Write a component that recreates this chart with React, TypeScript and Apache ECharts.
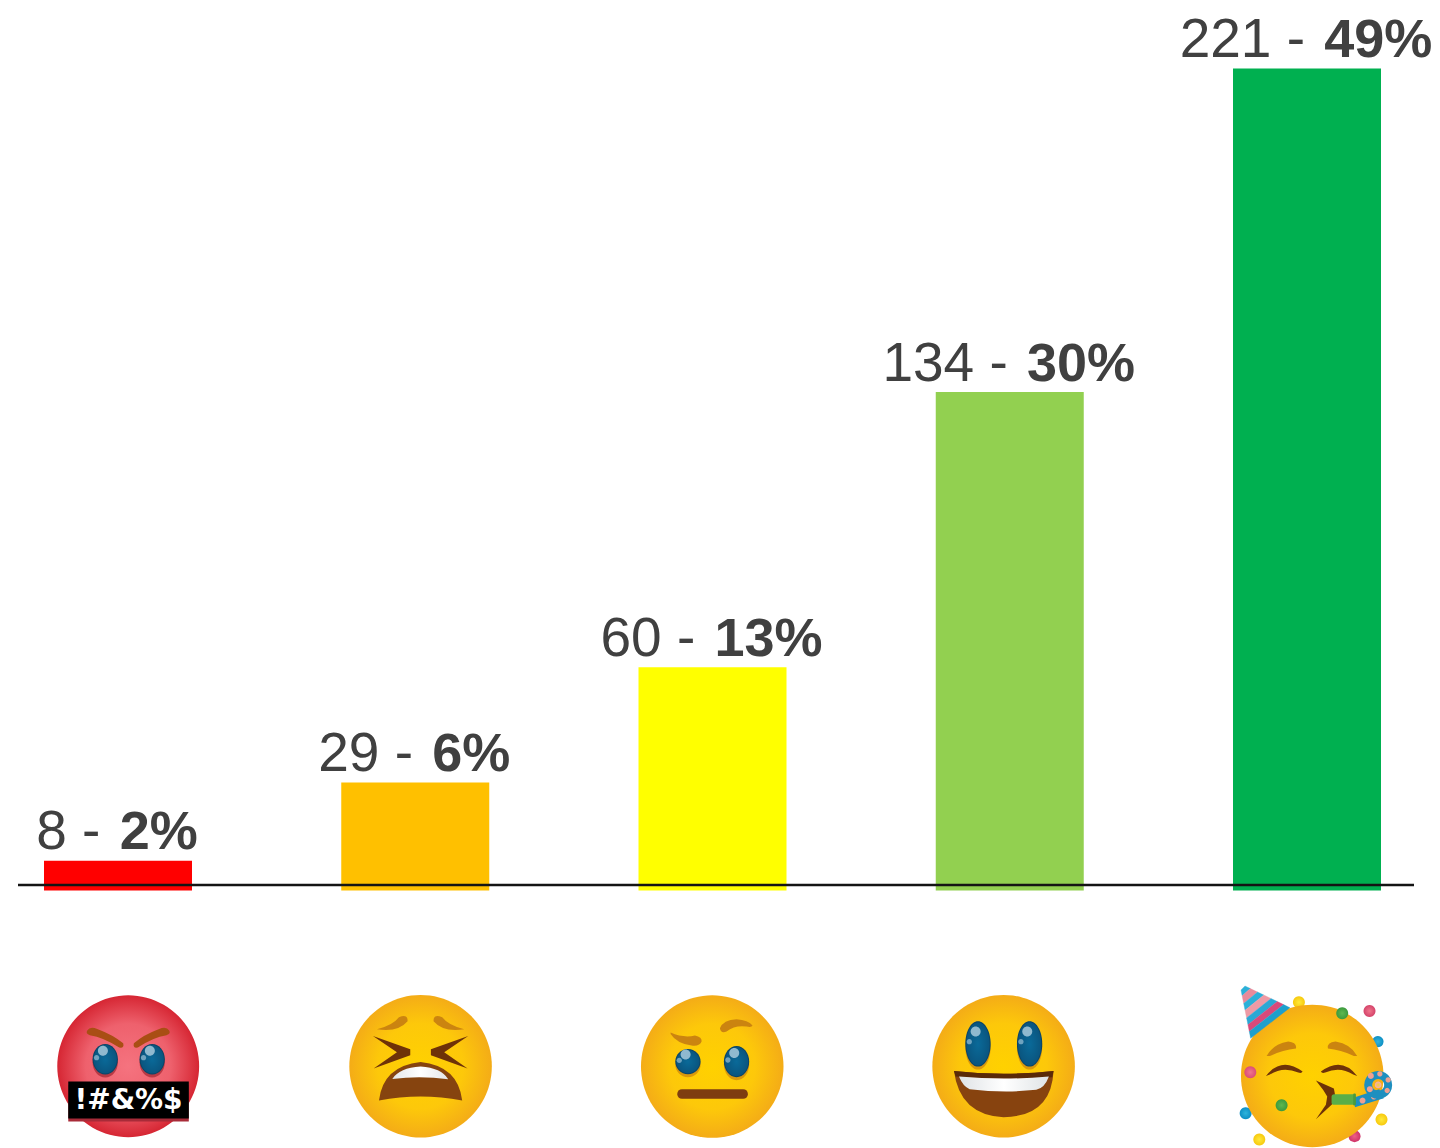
import React, { useEffect, useRef } from "react";
import * as echarts from "echarts";

const categories = ["Angry", "Tired", "Neutral", "Happy", "Party"];
const counts = [8, 29, 60, 134, 221];
const percents = [2, 6, 13, 30, 49];
const barColors = ["#FF0000", "#FFC000", "#FFFF00", "#92D050", "#00B050"];

let shapeId = 0;
const P = (d: string, fill: any, extra: any = {}) => {
  const name = "emojiPath" + shapeId++;
  echarts.graphic.registerShape(name, echarts.graphic.extendPath(d, {}) as any);
  return { type: name, style: { fill, ...extra } };
};
const radial = (c: string, e: string, mid?: string) => ({
  type: "radial", x: 0.5, y: 0.5, r: 0.5, global: false,
  colorStops: mid
    ? [{ offset: 0, color: c }, { offset: 0.6, color: mid }, { offset: 1, color: e }]
    : [{ offset: 0, color: c }, { offset: 1, color: e }],
});
const linearH = (a: string, b: string) => ({
  type: "linear", x: 0, y: 0, x2: 1, y2: 0, global: false,
  colorStops: [{ offset: 0, color: a }, { offset: 0.5, color: b }, { offset: 1, color: a }],
});
const el = (cx: number, cy: number, rx: number, ry: number, fill: any) => ({
  type: "ellipse", shape: { cx, cy, rx, ry }, style: { fill },
});
const yellowFace = (cx: number, cy: number, r: number) => ({
  type: "circle", shape: { cx, cy, r },
  style: { fill: radial("#FFD100", "#F4AC17", "#FDC80A") },
});
const eye = (cx: number, cy: number, rx: number, ry: number, shadow: string) => [
  el(cx, cy + 9, rx, ry, shadow),
  el(cx, cy, rx, ry, "#0B4466"),
  el(cx, cy, rx - 3, ry - 3, radial("#0A6A99", "#0A557F")),
  el(cx - 7, cy - ry * 0.55, 15, 15, "#8FB9CF"),
  el(cx - 26, cy - ry * 0.1, 8, 8, "#6FA3BF"),
];
const browColor = "#CB8410";
const group = (x: number, y: number, children: any[]) => ({
  type: "group", x, y, scaleX: 1 / 3, scaleY: 1 / 3, children,
});

const stripeA = (t: number) => [63 + (92 - 63) * t, 60 + (205 - 60) * t];
const stripeB = (t: number) => [75 + (210 - 75) * t, 48 + (113 - 48) * t];
const hatStops = [0, 0.12, 0.28, 0.42, 0.58, 0.72, 0.86, 1];
const hatColors = ["#2BB0D8", "#E88A9A", "#2BB0D8", "#EE9AA5", "#2BA8D4", "#D9497A", "#1E9FCC"];
const hatStripes = hatColors.map((c, i) => ({
  type: "polygon",
  shape: { points: [stripeA(hatStops[i]), stripeB(hatStops[i]), stripeB(hatStops[i + 1]), stripeA(hatStops[i + 1])] },
  style: { fill: c, stroke: c, lineWidth: 1 },
}));

const dot = (cx: number, cy: number, r: number, a: string, b: string) => ({
  type: "circle", shape: { cx, cy, r }, style: { fill: radial(a, b) },
});
const conf = { fill: "#F0A090" };

const emojis = (): any[] => [
  // angry
  group(0, 960, [
    { type: "circle", shape: { cx: 385, cy: 319, r: 213 }, style: { fill: radial("#F5737F", "#D62633", "#EE616D") } },
    P("M262 212 Q270 198 292 207 Q340 225 370 250 Q374 266 358 263 Q310 232 270 226 Q256 222 262 212Z", "#A94E14"),
    P("M508 212 Q500 198 478 207 Q430 225 402 250 Q398 266 414 263 Q460 232 500 226 Q514 222 508 212Z", "#A94E14"),
    ...eye(316, 298, 38, 46, "#B93A45"),
    ...eye(457, 298, 38, 46, "#B93A45"),
    { type: "rect", shape: { x: 205, y: 375, width: 362, height: 110 }, style: { fill: "#A82B38" } },
    { type: "rect", shape: { x: 205, y: 365, width: 362, height: 111 }, style: { fill: "#000000" } },
  ]),
  {
    type: "text", x: 128.5, y: 1099,
    style: { text: "!#&%$", fill: "#FFFFFF", font: "bold 28px 'DejaVu Sans'", textAlign: "center", textVerticalAlign: "middle" },
  },
  // tired
  group(0, 960, [
    yellowFace(1263, 319, 214),
    P("M1132 208 Q1180 196 1198 172 Q1225 160 1224 184 Q1195 218 1132 208Z", browColor),
    P("M1394 208 Q1346 196 1328 172 Q1301 160 1302 184 Q1331 218 1394 208Z", browColor),
    P("M1120 228 L1232 268 L1232 286 L1122 326 L1192 277 Z", "#6E3208"),
    P("M1406 228 L1294 268 L1294 286 L1404 326 L1334 277 Z", "#6E3208"),
    P("M1138 422 Q1150 318 1263 306 Q1376 318 1388 422 Q1263 398 1138 422Z", "#86440F"),
    P("M1178 357 Q1200 324 1263 320 Q1325 324 1346 358 Q1263 346 1178 357Z", linearH("#E4E6E8", "#FFFFFF")),
  ]),
  // neutral
  group(620, 960, [
    yellowFace(277, 320, 214),
    P("M152 218 Q190 235 225 227 Q247 232 245 245 Q240 260 215 257 Q170 250 152 222Z", browColor),
    P("M300 205 Q310 180 350 178 Q385 180 398 197 Q395 204 380 200 Q345 195 320 215 Q303 222 300 205Z", browColor),
    ...eye(204, 305, 38, 38, "#D9980C"),
    ...eye(350, 305, 38, 47, "#D9980C"),
    { type: "rect", shape: { x: 172, y: 388, width: 212, height: 29, r: 14 }, style: { fill: "#7E3D10" } },
    // happy
    yellowFace(1152, 319, 214),
    ...eye(1075, 252, 38, 68, "#D9980C"),
    ...eye(1230, 252, 38, 68, "#D9980C"),
    P("M1003 333 Q1152 350 1302 333 Q1295 470 1152 472 Q1020 465 1003 333Z", "#87430F"),
    P("M1003 333 Q1152 350 1302 333 L1298 352 Q1152 362 1008 350Z", "#5A2A08"),
    P("M1018 350 Q1152 362 1288 350 Q1275 385 1250 390 Q1152 400 1050 388 Q1030 380 1018 350Z", linearH("#DFE3E6", "#FFFFFF")),
  ]),
  // party
  group(1220, 970, [
    dot(237, 97, 18, "#FFE93A", "#F7C90E"),
    dot(474, 215, 17, "#2FB4DC", "#0E8FC4"),
    dot(449, 123, 18, "#F0768C", "#D4436A"),
    dot(77, 430, 18, "#2FB4DC", "#0E8FC4"),
    dot(404, 499, 18, "#EE5F85", "#CF3468"),
    dot(485, 449, 18, "#FFE93A", "#F7C90E"),
    dot(118, 509, 18, "#FFE93A", "#F7C90E"),
    yellowFace(277, 318, 214),
    ...hatStripes,
    dot(367, 130, 18, "#5FB84F", "#3C9A3E"),
    dot(91, 307, 18, "#F0768C", "#DB4C78"),
    dot(185, 406, 18, "#5FB84F", "#3C9A3E"),
    P("M140 258 Q160 222 205 215 Q232 218 228 236 Q190 240 150 258Z", browColor),
    P("M412 258 Q392 222 347 215 Q320 218 324 236 Q362 240 402 258Z", browColor),
    P("M138 318 Q185 258 248 305 Q245 312 235 308 Q190 288 150 314Z", "#6E3208"),
    P("M412 318 Q365 258 303 305 Q306 312 316 308 Q360 288 400 314Z", "#6E3208"),
    P("M288 332 L342 356 L346 378 L340 400 L288 448 L318 405 L322 380 L310 360Z", "#6E3208"),
    { type: "polygon", shape: { points: [[405, 382], [478, 358], [492, 385], [405, 412]] }, style: { fill: "#1E8FBF" } },
    dot(428, 392, 9, conf.fill, conf.fill),
    dot(462, 380, 9, conf.fill, conf.fill),
    { type: "rect", shape: { x: 335, y: 373, width: 72, height: 32, r: 8 }, style: { fill: "#5AAE48" } },
    { type: "rect", shape: { x: 400, y: 371, width: 8, height: 36, r: 3 }, style: { fill: "#4A9A3E" } },
    { type: "ring", shape: { cx: 475, cy: 345, r: 42, r0: 18 }, style: { fill: "#1E8FBF" } },
    dot(453, 318, 9, conf.fill, conf.fill),
    dot(480, 312, 8, conf.fill, conf.fill),
    dot(505, 330, 8, conf.fill, conf.fill),
    dot(502, 362, 8, conf.fill, conf.fill),
    dot(450, 358, 9, conf.fill, conf.fill),
    dot(475, 345, 10, "#F4D030", "#F4A9C0"),
  ]),
];

export default function App() {
  const ref = useRef<HTMLDivElement>(null);
  useEffect(() => {
    const chart = echarts.init(ref.current!, null, { renderer: "svg" });
    chart.setOption({
      animation: false,
      backgroundColor: "#FFFFFF",
      grid: { left: 118, top: 68.4, width: 1189, height: 822.1 },
      xAxis: {
        type: "category",
        boundaryGap: false,
        data: categories,
        axisLine: { show: false },
        axisTick: { show: false },
        axisLabel: { show: false },
      },
      yAxis: { type: "value", min: 0, max: 221, show: false, splitLine: { show: false } },
      series: [
        {
          type: "bar",
          barWidth: 148,
          clip: false,
          data: counts.map((v, i) => ({ value: v, itemStyle: { color: barColors[i] } })),
          label: {
            show: true,
            position: "top",
            distance: 3,
            offset: [-1, 0],
            formatter: (p: any) => `{a|${counts[p.dataIndex]} - }{b|${percents[p.dataIndex]}%}`,
            rich: {
              a: { fontFamily: "Liberation Sans", fontSize: 55, color: "#404040", padding: [0, 4, 0, 0] },
              b: { fontFamily: "Liberation Sans", fontSize: 54, fontWeight: "bold", color: "#404040" },
            },
          },
        },
      ],
      graphic: [
        {
          type: "line", z: 10,
          shape: { x1: 18, y1: 885, x2: 1414, y2: 885 },
          style: { stroke: "#141414", lineWidth: 2.5 },
        },
        ...emojis(),
      ],
    });
    return () => chart.dispose();
  }, []);
  return <div ref={ref} style={{ position: "absolute", left: 0, top: 0, width: 1440, height: 1148 }} />;
}
